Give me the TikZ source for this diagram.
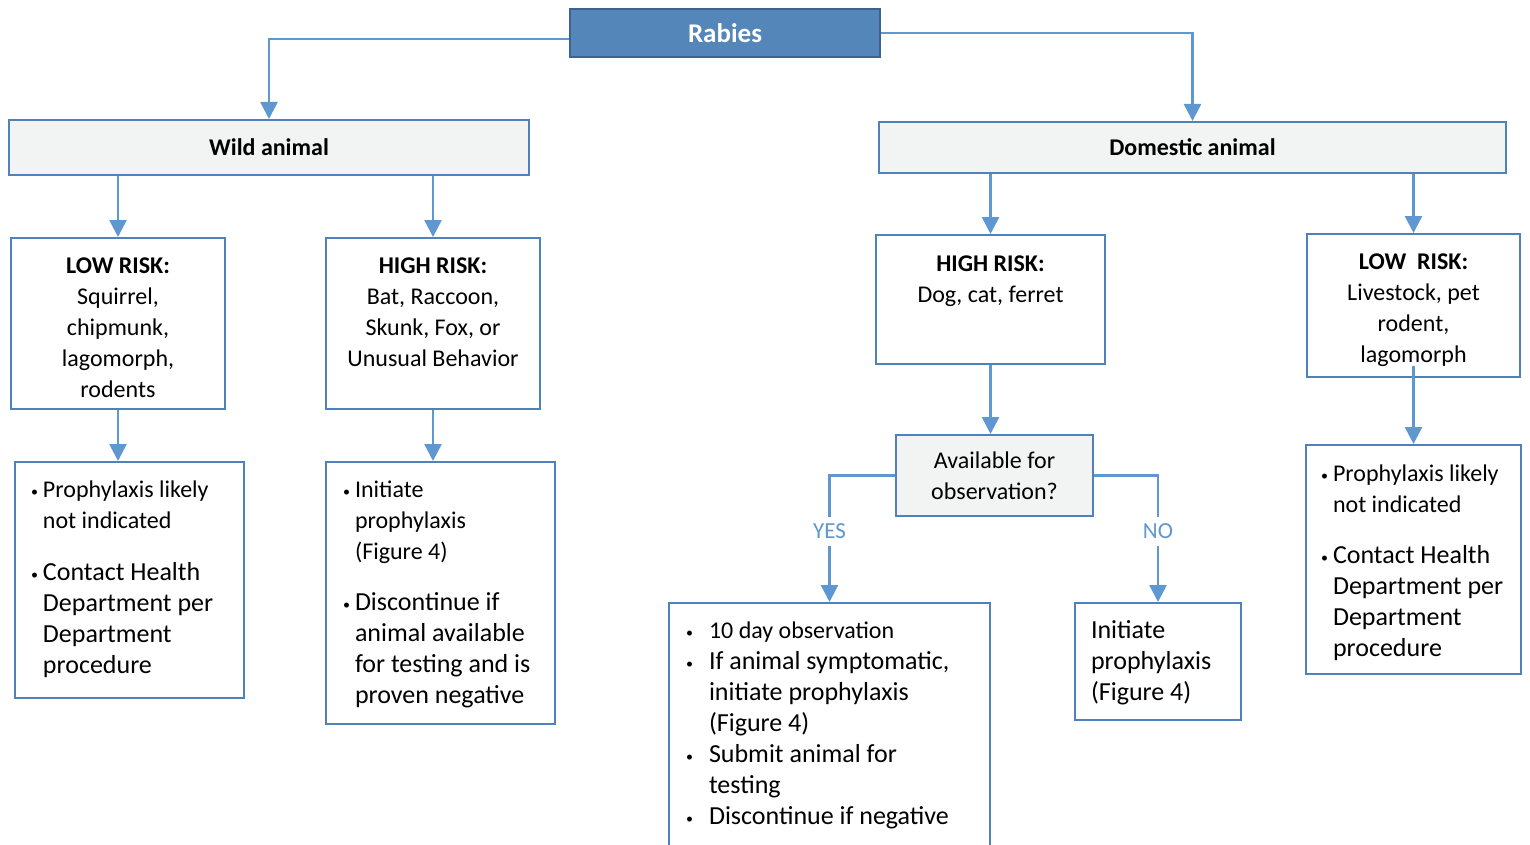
\documentclass[tikz,border=0pt]{standalone}
\usepackage{fontspec}
\setmainfont{Carlito}
\usetikzlibrary{arrows.meta}

\definecolor{boxblue}{RGB}{79,129,189}
\definecolor{linkblue}{RGB}{95,152,208}
\definecolor{headblue}{RGB}{84,134,186}
\definecolor{headedge}{RGB}{60,98,143}
\definecolor{boxgray}{RGB}{242,243,243}

\newcommand{\bodyfont}{\fontsize{24}{31}\selectfont}
\newcommand{\widefont}{\fontsize{26}{31}\selectfont}
\newcommand{\dotmark}{\raisebox{1pt}{\fontsize{14}{14}\selectfont\textbullet}}
% box content: width, height, space above first line, text
\newcommand{\boxtext}[4]{\begin{minipage}[c][#2][t]{#1}\vspace*{#3}#4\end{minipage}}
% bullet item: hang, gap after dot, text (lines split by \newline)
\newcommand{\bitem}[3]{\par\noindent\hangindent=#1\hangafter=1%
  \makebox[#1][r]{\dotmark\hspace{#2}}\strut#3\par}

\tikzset{
  box/.style={draw=boxblue, line width=2pt, fill=white, inner sep=0pt, font=\bodyfont},
  graybox/.style={box, fill=boxgray},
  head/.style={draw=headedge, fill=headblue, line width=2pt, text=white,
    font=\fontsize{27}{30}\selectfont\bfseries},
  link/.style={draw=linkblue, line width=2.6pt, -{Triangle[length=17pt,width=17pt]}},
  lbl/.style={fill=white, text=linkblue, inner xsep=3pt, inner ysep=7pt,
    font=\fontsize{23}{26}\selectfont}
}

\begin{document}
\begin{tikzpicture}[x=1pt,y=-1pt]
\path[use as bounding box, clip] (0,0) rectangle (1530,845);

\node[head, minimum width=310pt, minimum height=48pt] (rabies) at (725,33) {Rabies};
\node[graybox, minimum width=520pt, minimum height=55pt, font=\bodyfont\bfseries] (wild) at (269,147.5) {Wild animal};
\node[graybox, minimum width=627pt, minimum height=51pt, font=\bodyfont\bfseries] (dom) at (1192.5,147.5) {Domestic animal};

% wild side
\node[box] (wlow) at (118,323.5) {\boxtext{214pt}{171pt}{13.3pt}{\centering
  \strut\textbf{LOW RISK:}\\Squirrel,\\chipmunk,\\lagomorph,\\rodents}};
\node[box] (whigh) at (433,323.5) {\boxtext{214pt}{171pt}{13.3pt}{\centering
  \strut\textbf{HIGH RISK:}\\Bat, Raccoon,\\Skunk, Fox, or\\Unusual Behavior}};
\node[box] (wlowb) at (129.5,580) {\boxtext{229pt}{236pt}{13.3pt}{\raggedright
  \bitem{28pt}{5pt}{Prophylaxis likely\newline not indicated}\vspace{21pt}
  \widefont\bitem{28pt}{5pt}{Contact Health\newline Department per\newline Department\newline procedure}}};
\node[box] (whighb) at (440.5,593) {\boxtext{229pt}{262pt}{13.3pt}{\raggedright
  \bitem{29pt}{5pt}{Initiate\newline prophylaxis\newline (Figure 4)}\vspace{20pt}
  \widefont\bitem{29pt}{5pt}{Discontinue if\newline animal available\newline for testing and is\newline proven negative}}};

% domestic side
\node[box] (dhigh) at (990.5,299.5) {\boxtext{229pt}{129pt}{14.3pt}{\centering
  \strut\textbf{HIGH RISK:}\\Dog, cat, ferret}};
\node[box] (dlow) at (1413.5,305.5) {\boxtext{213pt}{143pt}{13.3pt}{\centering
  \strut\textbf{LOW\ \ RISK:}\\Livestock, pet\\rodent,\\lagomorph}};
\node[graybox, minimum width=197pt, minimum height=81pt, align=center] (avail) at (994.5,475.5) {Available for\\observation?};
\node[box] (yesb) at (829.5,739) {\boxtext{321pt}{272pt}{13.3pt}{\raggedright
  \bitem{40pt}{16pt}{10 day observation}
  \widefont\bitem{40pt}{16pt}{If animal symptomatic,\newline initiate prophylaxis\newline (Figure 4)}
  \bitem{40pt}{16pt}{Submit animal for\newline testing}
  \bitem{40pt}{16pt}{Discontinue if negative}}};
\node[box] (nob) at (1158,661.5) {\boxtext{166pt}{117pt}{13.3pt}{\raggedright\leftskip=16pt
  \widefont\strut Initiate\\prophylaxis\\(Figure 4)}};
\node[box] (dlowb) at (1413.5,559.5) {\boxtext{215pt}{229pt}{14.3pt}{\raggedright
  \bitem{27pt}{5pt}{Prophylaxis likely\newline not indicated}\vspace{20pt}
  \widefont\bitem{27pt}{5pt}{Contact Health\newline Department per\newline Department\newline procedure}}};

% connectors
\draw[link] ([yshift=-6pt]rabies.west) -| (wild.north);
\draw[link] (rabies.east) -| (dom.north);
\draw[link] (wlow.north |- wild.south) -- (wlow.north);
\draw[link] (whigh.north |- wild.south) -- (whigh.north);
\draw[link] (wlow.south) -- (wlow.south |- wlowb.north);
\draw[link] (whigh.south) -- (whigh.south |- whighb.north);
\draw[link] (dhigh.north |- dom.south) -- (dhigh.north);
\draw[link] (dlow.north |- dom.south) -- (dlow.north);
\draw[link] (dhigh.south) -- (dhigh.south |- avail.north);
\draw[link] ([yshift=12pt]dlow.south) -- (dlowb.north);
\draw[link] (avail.west) -| node[lbl, pos=0.72] (yes) {YES} (yesb.north);
\draw[link] (avail.east) -| node[lbl, pos=0.72] (no) {NO} (nob.north);
\end{tikzpicture}
\end{document}
